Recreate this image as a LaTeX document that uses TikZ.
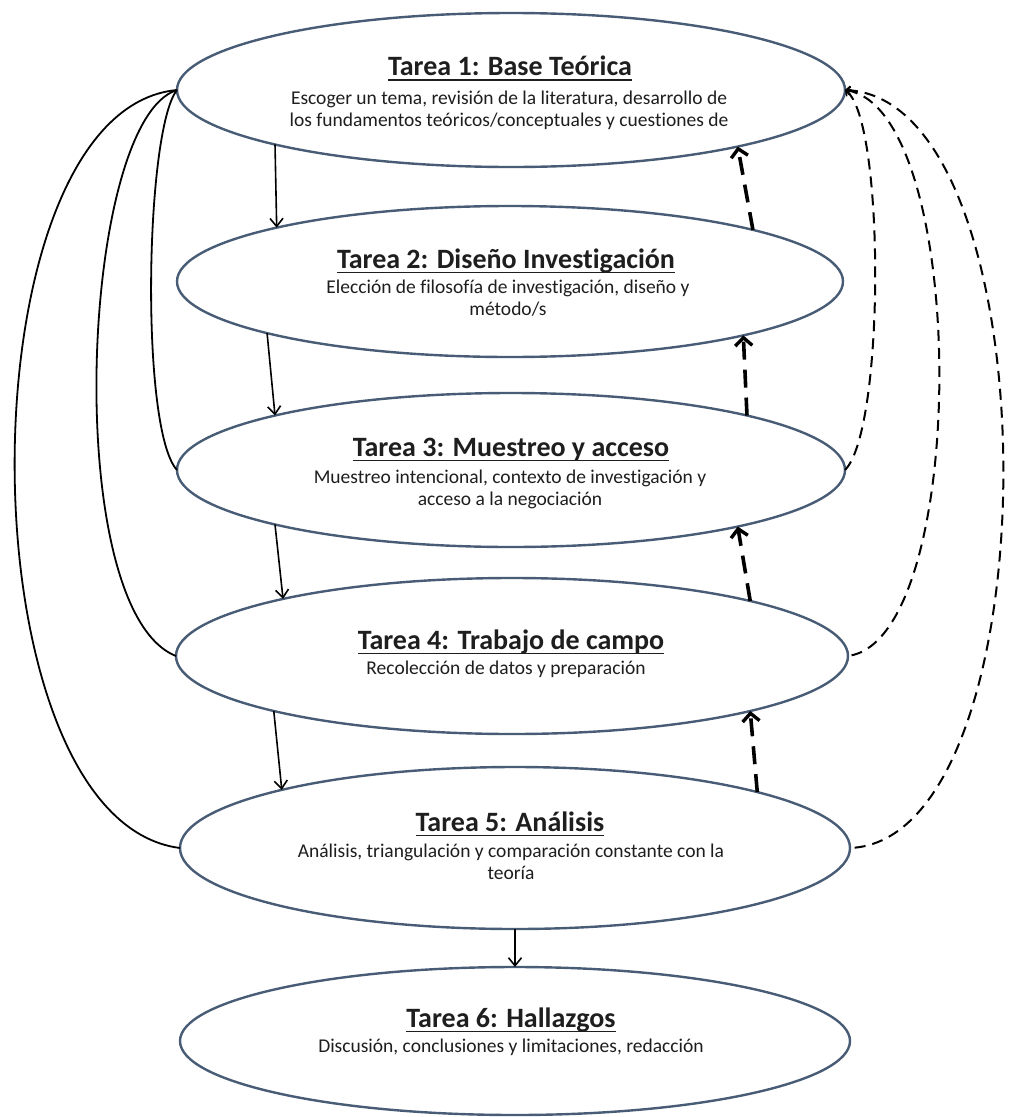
\documentclass[tikz,border=0pt]{standalone}
\usepackage{fontspec}
\setmainfont{Carlito}[Ligatures=NoCommon]
\usetikzlibrary{arrows.meta,shapes.geometric}
% underlined heading: a rule set just below the baseline
\newcommand{\headline}[1]{\setbox0\hbox{#1}\rlap{\rule[-5.3pt]{\wd0}{1.7pt}}\box0}
\definecolor{ellline}{RGB}{72,92,118}
\definecolor{inktext}{RGB}{30,30,30}
\tikzset{
  ell/.style={draw=ellline, line width=2.4pt, ellipse, inner sep=0pt, outer sep=0pt, fill=white},
  titletext/.style={font=\fontsize{28}{32}\selectfont\bfseries, text=inktext, inner sep=0pt, anchor=base},
  bodytext/.style={font=\fontsize{19.5}{22}\selectfont, text=inktext, inner sep=0pt, anchor=base},
  downarrow/.style={draw=black, line width=1.6pt, -{Straight Barb[length=8pt,width=13pt,line width=1.6pt]}},
  backarrow/.style={draw=black, line width=3.6pt, dash pattern=on 18pt off 10pt,
    -{Straight Barb[length=8pt,width=17pt,line width=3.4pt]}},
  leftloop/.style={draw=black, line width=1.8pt},
  rightloop/.style={draw=black, line width=2pt, dash pattern=on 11pt off 7pt,
    {Straight Barb[length=4pt,width=8pt,line width=1.6pt]}-}
}
\begin{document}
\begin{tikzpicture}[x=1pt,y=-1pt]
\useasboundingbox (0,0) rectangle (1010,1117);

% stages
\node[ell, minimum width=668pt, minimum height=154pt] (e1) at (511,90) {};
\node[ell, minimum width=666pt, minimum height=151pt] (e2) at (510,281.5) {};
\node[ell, minimum width=668pt, minimum height=154pt] (e3) at (511,470) {};
\node[ell, minimum width=672pt, minimum height=156pt] (e4) at (512,656) {};
\node[ell, minimum width=670pt, minimum height=162pt] (e5) at (515,848) {};
\node[ell, minimum width=670pt, minimum height=148pt] (e6) at (515,1041) {};

% stage texts
\node[titletext] (t1) at (510,75.5) {\headline{Tarea 1: Base Teórica}};
\node[bodytext] (b1a) at (509,104) {Escoger un tema, revisión de la literatura, desarrollo de};
\node[bodytext] (b1b) at (509,126) {los fundamentos teóricos/conceptuales y cuestiones de};
\node[titletext] (t2) at (506,268) {\headline{Tarea 2: Diseño Investigación}};
\node[bodytext] (b2a) at (508,293) {Elección de filosofía de investigación, diseño y};
\node[bodytext] (b2b) at (508,315) {método/s};
\node[titletext] (t3) at (511,456) {\headline{Tarea 3: Muestreo y acceso}};
\node[bodytext] (b3a) at (510,483) {Muestreo intencional, contexto de investigación y};
\node[bodytext] (b3b) at (510,505) {acceso a la negociación};
\node[titletext] (t4) at (511,649) {\headline{Tarea 4: Trabajo de campo}};
\node[bodytext] (b4a) at (506,674) {Recolección de datos y preparación};
\node[titletext] (t5) at (510,831) {\headline{Tarea 5: Análisis}};
\node[bodytext] (b5a) at (511,857) {Análisis, triangulación y comparación constante con la};
\node[bodytext] (b5b) at (511,879) {teoría};
\node[titletext] (t6) at (511,1027) {\headline{Tarea 6: Hallazgos}};
\node[bodytext] (b6a) at (511,1052) {Discusión, conclusiones y limitaciones, redacción};

% forward steps
\draw[downarrow] (e1.193.0) -- (e2.167.2);
\draw[downarrow] (e2.192.4) -- (e3.167.3);
\draw[downarrow] (e3.193.0) -- (e4.166.9);
\draw[downarrow] (e4.193.7) -- (e5.166.2);
\draw[downarrow] (e5.270) -- (e6.90);

% returns to the previous stage
\draw[backarrow] (e2.12.8) -- (e1.346.8);
\draw[backarrow] (e3.13.2) -- (e2.347.2);
\draw[backarrow] (e4.13.6) -- (e3.346.8);
\draw[backarrow] (e5.13.8) -- (e4.347.0);

% links on the left side
\draw[leftloop] (e1.west) .. controls (145,130) and (140,430) .. (e3.west);
\draw[leftloop] (e1.west) .. controls (80,120) and (60,610) .. (e4.west);
\draw[leftloop] (e1.west) .. controls (-40,110) and (-40,820) .. (e5.west);

% dashed links back to the first stage
\draw[rightloop] (e1.east) .. controls (885,120) and (885,430) .. (e3.east);
\draw[rightloop] (e1.east) .. controls (970,110) and (970,640) .. (e4.east);
\draw[rightloop] (e1.east) .. controls (1055,100) and (1055,840) .. (e5.east);
\end{tikzpicture}
\end{document}
